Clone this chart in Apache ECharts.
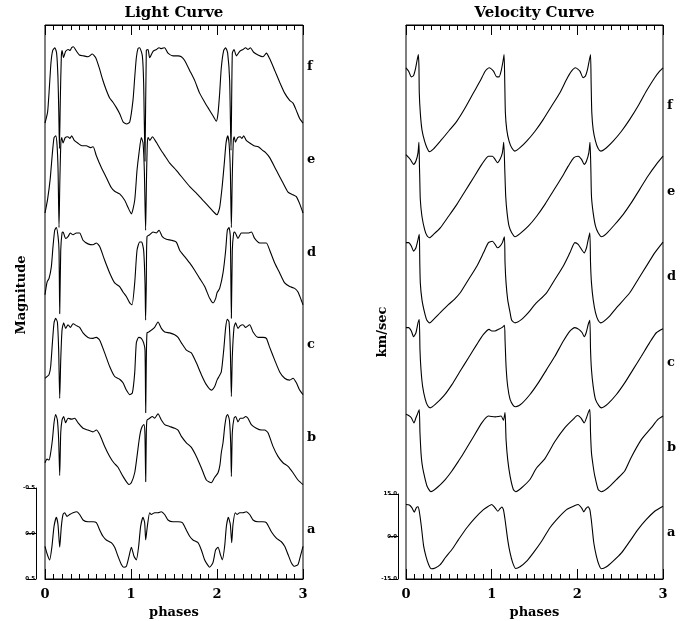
<!DOCTYPE html>
<html><head><meta charset="utf-8">
<script src="https://cdn.jsdelivr.net/npm/echarts@6/dist/echarts.min.js"></script>
<style>html,body{margin:0;padding:0;background:#fff}#c{width:691px;height:621px}</style>
</head><body><div id="c"></div>
<script>
// ---- data ----
const curveNames = ['a','b','c','d','e','f'];
const lightScaleTicks = [-0.5, 0.0, 0.5];
const velScaleTicks = [-15, 0, 15];
const LIGHT_STEP = 1;   // magnitudes between stacked light curves
const VEL_STEP = 30;    // km/s between stacked velocity curves

// light curves: [phase, relative magnitude]
const lightA = [[0,0.14],[0.027,0.23],[0.054,0.29],[0.081,0.14],[0.105,-0.08],[0.132,-0.18],[0.151,-0.10],[0.171,0.15],[0.19,-0.08],[0.209,-0.21],[0.229,-0.23],[0.256,-0.19],[0.287,-0.21],[0.326,-0.23],[0.372,-0.24],[0.403,-0.21],[0.442,-0.15],[0.5,-0.13],[0.558,-0.13],[0.597,-0.12],[0.636,-0.04],[0.674,0.03],[0.713,0.07],[0.771,0.10],[0.81,0.15],[0.849,0.25],[0.888,0.34],[0.915,0.37],[0.946,0.36],[0.977,0.25],[1.004,0.15],[1.035,0.25],[1.062,0.29],[1.089,0.14],[1.112,-0.08],[1.14,-0.18],[1.159,-0.12],[1.171,0.07],[1.19,-0.08],[1.217,-0.23],[1.236,-0.21],[1.275,-0.23],[1.314,-0.23],[1.353,-0.24],[1.391,-0.21],[1.43,-0.15],[1.488,-0.13],[1.547,-0.13],[1.597,-0.12],[1.643,-0.04],[1.682,0.03],[1.721,0.07],[1.779,0.10],[1.818,0.18],[1.857,0.29],[1.895,0.35],[1.915,0.37],[1.953,0.32],[1.984,0.18],[2.012,0.15],[2.039,0.23],[2.062,0.29],[2.089,0.14],[2.109,-0.08],[2.132,-0.18],[2.155,-0.10],[2.171,0.10],[2.186,-0.10],[2.213,-0.23],[2.233,-0.21],[2.264,-0.23],[2.302,-0.23],[2.341,-0.24],[2.38,-0.21],[2.419,-0.15],[2.477,-0.13],[2.535,-0.13],[2.574,-0.12],[2.632,-0.02],[2.69,0.05],[2.748,0.09],[2.787,0.14],[2.826,0.23],[2.864,0.32],[2.903,0.36],[2.942,0.34],[2.969,0.25],[3,0.14]];
const lightB = [[0,0.22],[0.024,0.18],[0.047,0.19],[0.066,0.11],[0.086,-0.03],[0.105,-0.22],[0.124,-0.31],[0.144,-0.25],[0.159,-0.03],[0.171,0.36],[0.183,-0.11],[0.198,-0.25],[0.217,-0.29],[0.24,-0.22],[0.268,-0.27],[0.306,-0.26],[0.345,-0.27],[0.384,-0.22],[0.442,-0.16],[0.5,-0.14],[0.558,-0.12],[0.597,-0.14],[0.636,-0.09],[0.694,0.04],[0.752,0.15],[0.8,0.22],[0.849,0.27],[0.907,0.37],[0.977,0.46],[1.004,0.44],[1.043,0.33],[1.07,0.15],[1.09,0.0],[1.11,-0.12],[1.13,-0.18],[1.15,-0.2],[1.162,-0.1],[1.171,0.43],[1.178,-0.1],[1.186,-0.25],[1.217,-0.27],[1.248,-0.29],[1.275,-0.27],[1.314,-0.32],[1.353,-0.25],[1.392,-0.20],[1.45,-0.18],[1.508,-0.16],[1.547,-0.14],[1.586,-0.07],[1.644,0.0],[1.702,0.05],[1.76,0.15],[1.82,0.28],[1.876,0.41],[1.934,0.44],[1.973,0.38],[2.012,0.33],[2.035,0.24],[2.05,0.11],[2.07,0.0],[2.09,-0.18],[2.109,-0.29],[2.124,-0.31],[2.144,-0.25],[2.159,0.0],[2.167,0.37],[2.178,-0.11],[2.198,-0.27],[2.217,-0.29],[2.244,-0.23],[2.271,-0.27],[2.302,-0.27],[2.333,-0.29],[2.36,-0.27],[2.399,-0.20],[2.457,-0.16],[2.516,-0.14],[2.554,-0.14],[2.593,-0.11],[2.651,0.04],[2.709,0.15],[2.767,0.22],[2.826,0.26],[2.884,0.33],[2.942,0.41],[3,0.46]];
const lightC = [[0,0.29],[0.024,0.27],[0.047,0.25],[0.066,0.16],[0.086,-0.10],[0.105,-0.32],[0.124,-0.37],[0.144,-0.33],[0.159,-0.02],[0.171,0.51],[0.183,0.09],[0.198,-0.24],[0.217,-0.32],[0.24,-0.26],[0.268,-0.30],[0.295,-0.27],[0.326,-0.31],[0.365,-0.29],[0.403,-0.27],[0.442,-0.21],[0.5,-0.16],[0.558,-0.15],[0.597,-0.16],[0.636,-0.13],[0.694,0.01],[0.752,0.16],[0.81,0.27],[0.868,0.30],[0.907,0.34],[0.946,0.42],[0.985,0.47],[1.016,0.45],[1.043,0.23],[1.062,-0.10],[1.089,-0.16],[1.12,-0.15],[1.147,-0.10],[1.163,-0.02],[1.171,0.67],[1.178,0.09],[1.186,-0.21],[1.206,-0.22],[1.237,-0.24],[1.275,-0.27],[1.314,-0.33],[1.353,-0.26],[1.392,-0.22],[1.45,-0.21],[1.508,-0.19],[1.547,-0.16],[1.586,-0.10],[1.644,-0.02],[1.702,0.01],[1.76,0.12],[1.818,0.25],[1.876,0.36],[1.934,0.42],[1.973,0.38],[2.0,0.31],[2.023,0.27],[2.05,0.22],[2.078,-0.02],[2.101,-0.27],[2.12,-0.36],[2.14,-0.33],[2.155,-0.02],[2.167,0.49],[2.178,0.05],[2.198,-0.27],[2.217,-0.32],[2.244,-0.26],[2.271,-0.29],[2.302,-0.30],[2.333,-0.27],[2.38,-0.30],[2.419,-0.22],[2.477,-0.16],[2.535,-0.16],[2.574,-0.15],[2.613,-0.05],[2.671,0.09],[2.729,0.22],[2.787,0.29],[2.845,0.31],[2.884,0.29],[2.923,0.34],[2.961,0.42],[3,0.47]];
const lightD = [[0,0.37],[0.024,0.23],[0.047,0.19],[0.074,0.06],[0.093,-0.16],[0.113,-0.34],[0.132,-0.37],[0.152,-0.27],[0.163,-0.12],[0.171,0.58],[0.183,-0.12],[0.198,-0.31],[0.21,-0.32],[0.24,-0.25],[0.268,-0.27],[0.295,-0.31],[0.326,-0.29],[0.365,-0.31],[0.403,-0.31],[0.442,-0.23],[0.5,-0.19],[0.558,-0.18],[0.597,-0.20],[0.636,-0.16],[0.694,-0.01],[0.752,0.13],[0.81,0.24],[0.868,0.28],[0.907,0.34],[0.946,0.39],[0.985,0.46],[1.012,0.48],[1.043,0.24],[1.07,-0.12],[1.101,-0.21],[1.124,-0.21],[1.147,-0.12],[1.163,0.24],[1.17,0.65],[1.178,0.24],[1.186,-0.27],[1.217,-0.29],[1.256,-0.32],[1.295,-0.31],[1.326,-0.34],[1.364,-0.27],[1.411,-0.24],[1.469,-0.23],[1.527,-0.21],[1.566,-0.12],[1.624,-0.05],[1.682,0.02],[1.74,0.10],[1.798,0.19],[1.857,0.28],[1.915,0.41],[1.954,0.46],[1.985,0.41],[2.0,0.35],[2.031,0.30],[2.07,0.13],[2.101,-0.12],[2.12,-0.34],[2.14,-0.37],[2.155,-0.27],[2.167,0.63],[2.178,-0.12],[2.194,-0.31],[2.206,-0.32],[2.244,-0.25],[2.283,-0.31],[2.322,-0.31],[2.361,-0.31],[2.4,-0.32],[2.438,-0.25],[2.496,-0.20],[2.535,-0.20],[2.574,-0.20],[2.613,-0.12],[2.671,0.02],[2.729,0.13],[2.787,0.24],[2.845,0.28],[2.903,0.30],[2.942,0.34],[2.98,0.43],[3,0.48]];
const lightE = [[0,0.47],[0.03,0.32],[0.06,0.10],[0.085,-0.18],[0.105,-0.36],[0.125,-0.38],[0.14,-0.28],[0.152,0.0],[0.163,0.63],[0.172,0.15],[0.185,-0.32],[0.195,-0.36],[0.21,-0.30],[0.235,-0.36],[0.265,-0.37],[0.29,-0.35],[0.31,-0.38],[0.34,-0.33],[0.38,-0.30],[0.43,-0.27],[0.48,-0.27],[0.53,-0.25],[0.56,-0.26],[0.597,-0.16],[0.655,-0.03],[0.713,0.08],[0.77,0.19],[0.81,0.23],[0.868,0.26],[0.927,0.33],[0.966,0.41],[1.004,0.48],[1.043,0.33],[1.07,0.0],[1.093,-0.19],[1.12,-0.36],[1.14,-0.30],[1.155,0.0],[1.17,0.66],[1.18,0.1],[1.19,-0.3],[1.2,-0.36],[1.22,-0.33],[1.25,-0.37],[1.28,-0.33],[1.30,-0.30],[1.35,-0.22],[1.40,-0.15],[1.45,-0.08],[1.527,0.0],[1.605,0.09],[1.683,0.18],[1.76,0.25],[1.837,0.33],[1.915,0.41],[1.973,0.47],[2.0,0.49],[2.031,0.41],[2.06,0.18],[2.085,-0.08],[2.105,-0.30],[2.125,-0.38],[2.14,-0.30],[2.155,0.0],[2.167,0.63],[2.177,0.1],[2.19,-0.33],[2.20,-0.37],[2.215,-0.31],[2.24,-0.36],[2.27,-0.37],[2.29,-0.35],[2.31,-0.38],[2.34,-0.33],[2.38,-0.30],[2.43,-0.27],[2.48,-0.26],[2.53,-0.22],[2.56,-0.20],[2.613,-0.14],[2.69,0.0],[2.768,0.14],[2.826,0.24],[2.884,0.27],[2.923,0.29],[2.962,0.37],[3,0.47]];
const lightF = [[0,0.48],[0.03,0.36],[0.05,0.10],[0.07,-0.19],[0.09,-0.32],[0.115,-0.35],[0.135,-0.29],[0.15,-0.04],[0.16,0.34],[0.168,0.76],[0.178,0.23],[0.19,-0.26],[0.20,-0.32],[0.215,-0.24],[0.24,-0.31],[0.27,-0.33],[0.29,-0.32],[0.31,-0.35],[0.33,-0.36],[0.36,-0.32],[0.40,-0.27],[0.45,-0.26],[0.50,-0.25],[0.55,-0.28],[0.59,-0.24],[0.63,-0.13],[0.67,0.00],[0.71,0.11],[0.75,0.20],[0.79,0.25],[0.83,0.31],[0.87,0.38],[0.91,0.47],[0.95,0.49],[0.985,0.47],[1.023,0.23],[1.043,-0.02],[1.062,-0.24],[1.081,-0.34],[1.10,-0.35],[1.132,-0.26],[1.147,0.04],[1.163,0.9],[1.178,-0.32],[1.198,-0.33],[1.217,-0.24],[1.256,-0.31],[1.295,-0.33],[1.326,-0.35],[1.353,-0.34],[1.391,-0.35],[1.43,-0.29],[1.488,-0.26],[1.547,-0.26],[1.585,-0.25],[1.624,-0.21],[1.682,-0.10],[1.74,0.01],[1.798,0.15],[1.857,0.25],[1.895,0.31],[1.953,0.40],[1.992,0.46],[2.012,0.37],[2.031,0.15],[2.05,-0.13],[2.078,-0.32],[2.101,-0.35],[2.124,-0.29],[2.147,0.01],[2.163,0.78],[2.178,-0.29],[2.198,-0.33],[2.225,-0.26],[2.264,-0.31],[2.302,-0.33],[2.333,-0.35],[2.36,-0.33],[2.388,-0.35],[2.426,-0.30],[2.477,-0.27],[2.535,-0.25],[2.574,-0.29],[2.612,-0.23],[2.671,-0.10],[2.729,0.03],[2.787,0.15],[2.845,0.23],[2.884,0.26],[2.922,0.34],[2.961,0.43],[3,0.48]];

// velocity curves: [phase, km/s]
const velA = [[0,11.3],[0.039,11.1],[0.07,10.1],[0.097,8.6],[0.12,10.1],[0.14,10.5],[0.155,8.9],[0.179,3.6],[0.206,-3.4],[0.233,-7.0],[0.264,-9.9],[0.295,-11.4],[0.341,-11.1],[0.40,-9.9],[0.458,-7.5],[0.536,-4.6],[0.613,-1.1],[0.71,3.1],[0.807,6.6],[0.904,9.5],[0.962,10.7],[1.001,11.3],[1.04,10.1],[1.071,8.9],[1.098,9.8],[1.118,10.4],[1.137,9.5],[1.156,6.0],[1.187,-1.1],[1.215,-5.8],[1.246,-9.3],[1.281,-11.3],[1.331,-10.7],[1.409,-8.7],[1.486,-5.8],[1.583,-1.7],[1.68,3.1],[1.777,6.6],[1.874,9.5],[1.971,10.9],[2.01,11.3],[2.049,10.1],[2.076,8.7],[2.099,9.8],[2.126,10.5],[2.146,9.5],[2.165,5.4],[2.192,-2.2],[2.223,-7.0],[2.255,-10.2],[2.282,-11.4],[2.34,-10.7],[2.418,-8.7],[2.515,-5.8],[2.612,-1.7],[2.709,2.5],[2.806,6.0],[2.903,8.9],[3,10.7]];
const velB = [[0,13.1],[0.031,12.7],[0.062,11.9],[0.093,10.1],[0.116,11.9],[0.14,13.7],[0.155,14.8],[0.163,6.6],[0.175,-0.5],[0.186,-4.0],[0.206,-7.5],[0.245,-12.2],[0.291,-14.2],[0.361,-12.8],[0.458,-9.9],[0.536,-6.9],[0.613,-3.4],[0.652,-1.6],[0.768,4.2],[0.885,10.1],[0.962,12.5],[1.04,12.2],[1.11,12.5],[1.137,11.0],[1.156,13.7],[1.168,4.2],[1.187,-2.8],[1.215,-8.7],[1.253,-13.4],[1.284,-14.2],[1.35,-12.8],[1.447,-9.9],[1.52,-6.0],[1.622,-2.5],[1.738,3.5],[1.855,8.4],[1.95,11.3],[2.0,12.7],[2.041,11.9],[2.08,10.1],[2.107,11.9],[2.127,13.7],[2.146,14.8],[2.154,6.6],[2.165,-0.5],[2.185,-5.2],[2.204,-8.7],[2.243,-13.4],[2.282,-14.2],[2.359,-12.8],[2.456,-9.9],[2.553,-6.9],[2.63,-2.0],[2.747,4.2],[2.864,8.4],[2.941,11.3],[3,12.5]];
const velC = [[0,13.7],[0.031,13.7],[0.062,12.5],[0.089,10.5],[0.116,11.9],[0.14,15.4],[0.155,16.6],[0.163,6.0],[0.175,-1.1],[0.194,-7.0],[0.225,-11.6],[0.252,-13.8],[0.283,-14.6],[0.341,-13.4],[0.438,-10.5],[0.536,-6.4],[0.633,-1.6],[0.73,3.1],[0.827,7.8],[0.904,11.3],[0.97,13.1],[1.001,12.5],[1.04,12.5],[1.079,13.1],[1.118,13.7],[1.149,14.5],[1.156,9.5],[1.168,0.1],[1.187,-7.0],[1.215,-11.6],[1.253,-13.8],[1.281,-14.2],[1.35,-13.1],[1.447,-9.9],[1.544,-5.8],[1.641,-1.1],[1.738,3.6],[1.835,8.9],[1.913,12.5],[1.971,13.7],[2.018,13.1],[2.057,11.9],[2.08,10.5],[2.103,11.9],[2.127,14.8],[2.146,16.3],[2.154,6.0],[2.165,-1.1],[2.185,-7.0],[2.212,-11.6],[2.251,-13.8],[2.282,-14.6],[2.359,-13.1],[2.456,-9.9],[2.553,-5.8],[2.65,-1.1],[2.747,3.6],[2.844,8.4],[2.922,11.9],[3,13.3]];
const velD = [[0,13.7],[0.031,13.7],[0.062,12.5],[0.089,10.7],[0.116,11.9],[0.14,14.8],[0.155,16.6],[0.159,11.3],[0.161,6.6],[0.167,-0.5],[0.186,-6.4],[0.217,-11.0],[0.244,-13.7],[0.276,-14.6],[0.322,-13.4],[0.40,-11.0],[0.497,-8.1],[0.565,-6.3],[0.633,-4.0],[0.73,0.7],[0.827,5.4],[0.904,10.1],[0.962,13.7],[1.009,14.2],[1.04,13.1],[1.067,11.9],[1.098,12.5],[1.125,13.7],[1.149,15.8],[1.156,6.6],[1.168,-0.5],[1.187,-6.4],[1.215,-11.0],[1.234,-13.7],[1.273,-14.6],[1.35,-13.4],[1.428,-11.0],[1.506,-8.1],[1.641,-4.0],[1.738,0.7],[1.835,5.4],[1.913,10.1],[1.971,13.7],[2.01,13.1],[2.049,11.3],[2.08,10.1],[2.107,11.9],[2.127,14.8],[2.146,17.2],[2.154,6.6],[2.165,-0.5],[2.185,-6.4],[2.212,-11.0],[2.243,-13.7],[2.274,-14.6],[2.359,-12.8],[2.456,-9.3],[2.612,-4.0],[2.709,0.7],[2.806,5.4],[2.903,10.1],[3,13.9]];
const velE = [[0,14.8],[0.05,13.1],[0.089,11.3],[0.116,12.5],[0.14,15.4],[0.151,19.1],[0.157,10.7],[0.161,6.0],[0.167,-1.1],[0.186,-7.0],[0.217,-11.6],[0.244,-13.8],[0.276,-14.6],[0.322,-13.4],[0.40,-11.1],[0.497,-7.0],[0.594,-2.8],[0.691,1.9],[0.788,6.6],[0.885,11.3],[0.962,14.2],[1.009,14.2],[1.04,13.1],[1.067,11.9],[1.098,13.1],[1.125,15.4],[1.141,19.1],[1.153,9.5],[1.164,0.1],[1.18,-5.8],[1.203,-10.5],[1.234,-12.8],[1.273,-14.2],[1.331,-13.1],[1.428,-10.5],[1.525,-7.0],[1.622,-2.8],[1.719,1.9],[1.816,6.6],[1.894,10.7],[1.96,13.7],[2.01,14.2],[2.049,13.1],[2.08,11.3],[2.107,12.5],[2.134,15.4],[2.148,19.1],[2.158,9.5],[2.165,0.1],[2.185,-5.8],[2.212,-10.5],[2.243,-12.8],[2.282,-14.2],[2.34,-13.1],[2.437,-9.9],[2.534,-6.4],[2.631,-2.2],[2.728,2.5],[2.825,7.2],[2.922,11.3],[3,14.2]];
const velF = [[0,15.4],[0.031,14.2],[0.062,12.2],[0.089,12.7],[0.109,14.8],[0.128,17.8],[0.144,20.1],[0.151,16.0],[0.155,6.6],[0.167,-0.5],[0.186,-6.4],[0.217,-10.5],[0.244,-12.8],[0.272,-14.2],[0.322,-13.2],[0.40,-10.5],[0.497,-7.0],[0.594,-3.4],[0.691,1.3],[0.788,6.6],[0.865,10.7],[0.924,14.2],[0.97,15.4],[1.021,14.2],[1.059,12.2],[1.087,12.2],[1.11,14.2],[1.133,17.8],[1.145,20.1],[1.153,10.1],[1.16,-0.5],[1.176,-6.4],[1.203,-10.5],[1.234,-12.8],[1.273,-14.0],[1.331,-12.8],[1.409,-10.5],[1.506,-7.0],[1.603,-2.8],[1.7,1.9],[1.797,6.6],[1.874,11.3],[1.932,14.2],[1.979,15.4],[2.03,14.2],[2.068,11.9],[2.095,12.5],[2.119,14.8],[2.138,17.8],[2.154,20.1],[2.161,10.1],[2.169,-0.5],[2.185,-6.4],[2.212,-10.5],[2.243,-13.1],[2.274,-14.0],[2.34,-12.8],[2.418,-10.5],[2.515,-7.0],[2.612,-2.8],[2.709,1.9],[2.806,7.2],[2.903,11.9],[2.961,14.2],[3,15.4]];

// ---- chart ----
const SERIF = 'DejaVu Serif';
const lightCurves = [lightA, lightB, lightC, lightD, lightE, lightF];
const velCurves = [velA, velB, velC, velD, velE, velF];

function phaseAxis(grid, pos, name, gap, labels) {
  return {
    type: 'value', gridIndex: grid, position: pos, min: 0, max: 3, interval: 1,
    axisLine: {show: true, onZero: false, lineStyle: {color: '#000', width: 1}},
    axisTick: {show: true, inside: true, length: 10, lineStyle: {color: '#000', width: 1}},
    minorTick: {show: true, splitNumber: 10, length: 5, lineStyle: {color: '#000', width: 1}},
    splitLine: {show: false}, minorSplitLine: {show: false},
    axisLabel: {show: labels, margin: 9, color: '#000', fontFamily: SERIF, fontWeight: 'bold', fontSize: 13,
                showMinLabel: true, showMaxLabel: true},
    name: name, nameLocation: 'middle', nameGap: gap,
    nameTextStyle: {color: '#000', fontFamily: SERIF, fontWeight: 'bold', fontSize: labels ? 13 : 15}
  };
}
function hiddenX(grid) { return {type: 'value', gridIndex: grid, show: false, min: 0, max: 1, axisLine: {onZero: false}}; }
function scaleAxis(grid, lo, hi, step, inverse) {
  return {
    type: 'value', gridIndex: grid, min: lo, max: hi, interval: step, inverse: inverse,
    axisLine: {show: true, onZero: false, lineStyle: {color: '#000', width: 1}},
    axisTick: {show: true, length: 9, lineStyle: {color: '#000', width: 1}},
    splitLine: {show: false},
    axisLabel: {margin: 1, color: '#000', fontFamily: 'DejaVu Sans', fontWeight: 'bold', fontSize: 5.5,
                formatter: v => v.toFixed(1), showMinLabel: true, showMaxLabel: true}
  };
}
function nameAxis(grid) {
  return {
    type: 'category', gridIndex: grid, position: 'right', data: curveNames,
    axisLine: {show: false, onZero: false}, axisTick: {show: false}, splitLine: {show: false},
    axisLabel: {margin: 4, color: '#000', fontFamily: SERIF, fontWeight: 'bold', fontSize: 13}
  };
}
const hiddenLine = {show: false, onZero: false};

const series = [];
lightCurves.forEach((d, k) => series.push({
  type: 'line', xAxisIndex: 0, yAxisIndex: 0, name: 'L' + curveNames[k],
  data: d.map(([p, v]) => [p, v - k * LIGHT_STEP]),
  showSymbol: false, symbol: 'none', smooth: 0.2, silent: true,
  lineStyle: {color: '#000', width: 1.1}
}));
velCurves.forEach((d, k) => series.push({
  type: 'line', xAxisIndex: 2, yAxisIndex: 1, name: 'V' + curveNames[k],
  data: d.map(([p, v]) => [p, v + k * VEL_STEP]),
  showSymbol: false, symbol: 'none', smooth: 0.2, silent: true,
  lineStyle: {color: '#000', width: 1.1}
}));

const G = {containLabel: false, outerBoundsMode: 'none'};
const option = {
  animation: false,
  backgroundColor: '#fff',
  grid: [
    Object.assign({left: 45, top: 25, width: 258, height: 554, show: true, borderColor: '#000', borderWidth: 1}, G),
    Object.assign({left: 406, top: 25, width: 257, height: 554, show: true, borderColor: '#000', borderWidth: 1}, G),
    Object.assign({left: 36, top: 488, width: 1, height: 91}, G),
    Object.assign({left: 398, top: 494, width: 1, height: 85}, G),
    Object.assign({left: 45, top: 20.7, width: 258, height: 555.6}, G),
    Object.assign({left: 406, top: 63.3, width: 257, height: 512.4}, G)
  ],
  xAxis: [
    phaseAxis(0, 'bottom', 'phases', 24, true),
    phaseAxis(0, 'top', 'Light Curve', 4, false),
    phaseAxis(1, 'bottom', 'phases', 24, true),
    phaseAxis(1, 'top', 'Velocity Curve', 4, false),
    hiddenX(2), hiddenX(3), hiddenX(4), hiddenX(5)
  ],
  yAxis: [
    {type: 'value', gridIndex: 0, min: -5.6, max: 0.5, inverse: true,
     axisLine: hiddenLine, axisTick: {show: false}, axisLabel: {show: false}, splitLine: {show: false},
     name: 'Magnitude', nameLocation: 'middle', nameGap: 17, nameRotate: 90,
     nameTextStyle: {color: '#000', fontFamily: SERIF, fontWeight: 'bold', fontSize: 13, padding: [0, 0, 0, 14]}},
    {type: 'value', gridIndex: 1, min: -15, max: 180.5,
     axisLine: hiddenLine, axisTick: {show: false}, axisLabel: {show: false}, splitLine: {show: false},
     name: 'km/sec', nameLocation: 'middle', nameGap: 17, nameRotate: 90,
     nameTextStyle: {color: '#000', fontFamily: SERIF, fontWeight: 'bold', fontSize: 13, padding: [0, 0, 0, -60]}},
    scaleAxis(2, lightScaleTicks[0], lightScaleTicks[2], lightScaleTicks[2] - lightScaleTicks[1], true),
    scaleAxis(3, velScaleTicks[0], velScaleTicks[2], velScaleTicks[2] - velScaleTicks[1], false),
    nameAxis(4),
    nameAxis(5)
  ],
  series: series
};
const chart = echarts.init(document.getElementById('c'));
chart.setOption(option);
</script>
</body></html>
